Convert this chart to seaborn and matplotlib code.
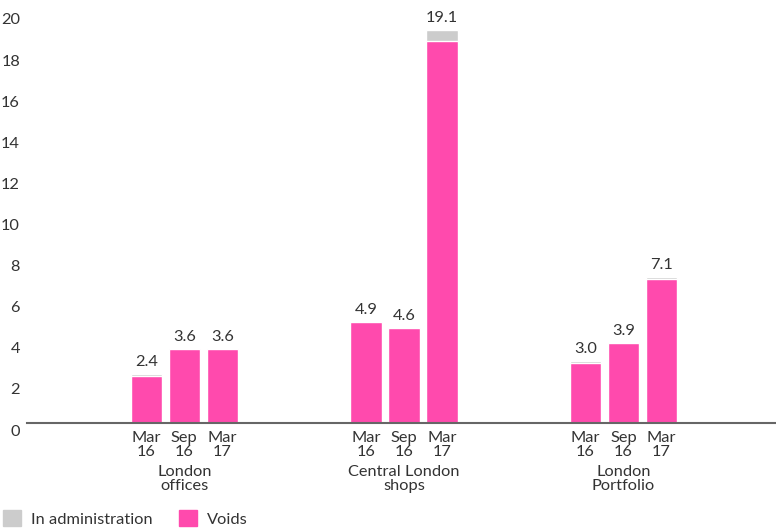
import numpy as np
import pandas as pd
import seaborn as sns
import matplotlib.pyplot as plt
import matplotlib.transforms as mtransforms
from matplotlib.patches import Patch

## Data
groups = ["London\noffices", "Central London\nshops", "London\nPortfolio"]
periods = ["Mar\n16", "Sep\n16", "Mar\n17"]
voids = [2.3, 3.6, 3.6, 4.9, 4.6, 18.6, 2.9, 3.9, 7.0]
admin = [0.1, 0.0, 0.0, 0.0, 0.0, 0.5, 0.1, 0.0, 0.1]
value_labels = ["2.4", "3.6", "3.6", "4.9", "4.6", "19.1", "3.0", "3.9", "7.1"]

PINK = "#FF4AAD"
GREY = "#CCCCCC"
TEXT = "#333333"
FS = 11.8

sns.set_style("white")
plt.rcParams["font.family"] = ["Lato", "DejaVu Sans"]
plt.rcParams["font.size"] = FS

# positions: 3 bars per group, gap between groups
gap = 5.78
rows = []
for g, grp in enumerate(groups):
    for i, per in enumerate(periods):
        k = g * 3 + i
        rows.append({"pos": g * gap + i, "period": per, "group": grp,
                     "voids": voids[k], "admin": admin[k],
                     "total": voids[k] + admin[k], "label": value_labels[k]})
df = pd.DataFrame(rows)

fig = plt.figure(figsize=(7.76, 5.32), dpi=100)
ax = fig.add_axes([27 / 776, 109 / 532, 749 / 776, 411 / 532])

# stacked: total in grey, voids in pink on top of it
sns.barplot(data=df, x="pos", y="total", native_scale=True, color=GREY,
            saturation=1, width=0.82, errorbar=None, ax=ax)
sns.barplot(data=df, x="pos", y="voids", native_scale=True, color=PINK,
            saturation=1, width=0.82, errorbar=None, ax=ax)

ax.set_xlim(-3.14, 16.57)
ax.set_ylim(0, 20)
ax.set_xlabel("")
ax.set_ylabel("")

for s in ["top", "right", "left"]:
    ax.spines[s].set_visible(False)
ax.spines["bottom"].set_color("#666666")
ax.spines["bottom"].set_linewidth(1.5)

ax.set_yticks(np.arange(0, 21, 2))
ax.set_yticklabels([str(v) for v in range(0, 21, 2)])
ax.tick_params(axis="y", length=0, pad=5, colors=TEXT)
off = mtransforms.ScaledTranslation(0, -7 / 100, fig.dpi_scale_trans)
for lab in ax.get_yticklabels():
    lab.set_transform(lab.get_transform() + off)

ax.set_xticks(df["pos"])
ax.set_xticklabels(df["period"], linespacing=1.0)
ax.tick_params(axis="x", length=0, pad=6, colors=TEXT)

# value labels
for _, r in df.iterrows():
    ax.annotate(r["label"], xy=(r["pos"], r["total"]), xytext=(0, 5),
                textcoords="offset pixels", ha="center", va="bottom",
                color=TEXT, fontsize=FS)

# group labels
for g, grp in enumerate(groups):
    ax.annotate(grp, xy=(g * gap + 1, 0), xycoords=("data", "axes fraction"),
                xytext=(0, -42), textcoords="offset pixels", ha="center",
                va="top", color=TEXT, fontsize=FS, linespacing=1.0)

handles = [Patch(color=GREY, label="In administration"),
           Patch(color=PINK, label="Voids")]
fig.legend(handles=handles, loc="lower left", bbox_to_anchor=(0.0, 0.004),
           ncol=2, frameon=False, handlelength=1.1, handleheight=1.1,
           handletextpad=0.6, columnspacing=1.6, borderaxespad=0.0,
           borderpad=0.2, labelcolor=TEXT, fontsize=FS)

fig.savefig("out.png", dpi=100)
